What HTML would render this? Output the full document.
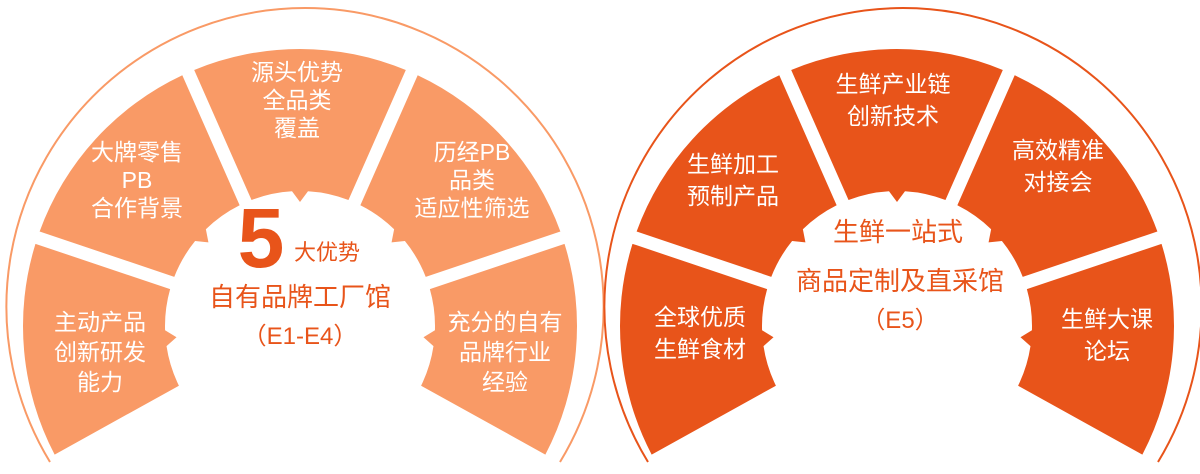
<!DOCTYPE html>
<html><head><meta charset="utf-8">
<style>
html,body{margin:0;padding:0;background:#fff;width:1200px;height:474px;overflow:hidden}
svg{display:block}
text{font-family:"Liberation Sans","Noto Sans CJK SC",sans-serif;text-anchor:middle}
.w{fill:#fff;font-size:23px}
.c{fill:#e8541a}
</style></head><body>
<svg id="s" width="1200" height="474" viewBox="0 0 1200 474" xmlns="http://www.w3.org/2000/svg">
<g id="segs"></g>
<g class="w">
<text x="297" y="80">源头优势</text><text x="297" y="108">全品类</text><text x="297" y="136">覆盖</text>
<text x="137" y="160">大牌零售</text><text x="137" y="188">PB</text><text x="137" y="216">合作背景</text>
<text x="472" y="160">历经PB</text><text x="472" y="188">品类</text><text x="472" y="216">适应性筛选</text>
<text x="100" y="330">主动产品</text><text x="100" y="360">创新研发</text><text x="100" y="390">能力</text>
<text x="505" y="330">充分的自有</text><text x="505" y="360">品牌行业</text><text x="505" y="390">经验</text>
</g>
<g class="c">
<text x="261" y="267" style="font-size:84px;font-weight:bold">5</text>
<text x="327" y="260" style="font-size:22px">大优势</text>
<text x="300" y="306" style="font-size:26px">自有品牌工厂馆</text>
<text x="300" y="344" style="font-size:24px">（E1-E4）</text>
</g>
<g class="w">
<text x="893" y="92">生鲜产业链</text><text x="893" y="124">创新技术</text>
<text x="733" y="172">生鲜加工</text><text x="733" y="204">预制产品</text>
<text x="1058" y="158">高效精准</text><text x="1058" y="190">对接会</text>
<text x="700" y="325">全球优质</text><text x="700" y="357">生鲜食材</text>
<text x="1107" y="327">生鲜大课</text><text x="1107" y="359">论坛</text>
</g>
<g class="c" style="font-size:26px">
<text x="898" y="241">生鲜一站式</text>
<text x="900" y="290">商品定制及直采馆</text>
<text x="900" y="328" style="font-size:24px">（E5）</text>
</g>
</svg>
<script>
(function(){
var g=document.getElementById('segs'),NS='http://www.w3.org/2000/svg';
function P(cx,cy,r,a){var t=a*Math.PI/180;return [cx+r*Math.cos(t),cy-r*Math.sin(t)];}
function draw(cx,cy,fill,acx){
  var R=298.6;
  var arc=document.createElementNS(NS,'path');
  arc.setAttribute('d','M'+(acx-255)+' 462 A'+R+' '+R+' 0 1 1 '+(acx+255)+' 462');
  arc.setAttribute('fill','none');arc.setAttribute('stroke',fill);arc.setAttribute('stroke-width','2');
  g.appendChild(arc);
  var ro=277,ri=135,start=209,span=238,n=5,gap=13;
  var seg=span/n;
  for(var i=0;i<n;i++){
    var A=start-i*seg,B=A-seg;
    var go=gap/2/ro*180/Math.PI,gi=gap/2/ri*180/Math.PI;
    var p1=P(cx,cy,ro,A-go),p2=P(cx,cy,ro,B+go),p3=P(cx,cy,ri,B+gi),p4=P(cx,cy,ri,A-gi);
    var m=(A+B)/2,d=8/ri*180/Math.PI;
    var n1=P(cx,cy,ri,m-d),tip=P(cx,cy,ri-11,m),n2=P(cx,cy,ri,m+d);
    var path='M'+p1+' A'+ro+' '+ro+' 0 0 1 '+p2+' L'+p3+
      ' A'+ri+' '+ri+' 0 0 0 '+n1+' L'+tip+' L'+n2+' A'+ri+' '+ri+' 0 0 0 '+p4+' Z';
    var e=document.createElementNS(NS,'path');
    e.setAttribute('d',path);e.setAttribute('fill',fill);g.appendChild(e);
  }
}
draw(300,326,'#f99a66',305);
draw(897,326,'#e8541a',903);
})();
</script>
</body></html>
